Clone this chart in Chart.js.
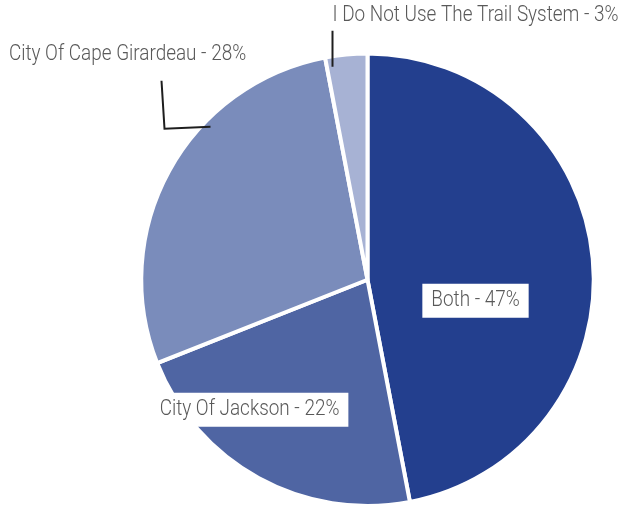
<!DOCTYPE html>
<html>
<head>
<meta charset="utf-8">
<script src="https://cdn.jsdelivr.net/npm/chart.js@4.4.1/dist/chart.umd.min.js"></script>
<style>
  html, body { margin: 0; padding: 0; background: #fff; }
  #wrap { width: 620px; height: 508px; }
</style>
</head>
<body>
<div id="wrap"><canvas id="pie" width="620" height="508"></canvas></div>
<script>
// --- data ---
const categories = ['Both', 'City Of Jackson', 'City Of Cape Girardeau', 'I Do Not Use The Trail System'];
const shares = [47, 22, 28, 3];
const sliceColors = ['#233f8e', '#4f65a3', '#7a8cbb', '#a7b2d4'];

// label placement, offsets from the pie centre (px)
const labelLayout = [
  { box: true, dx: 108, dy: 21 },
  { box: true, dx: -118, dy: 130 },
  { box: false, dx: -240, dy: -225, leader: [[-157, -153], [-203, -151], [-206, -199]] },
  { box: false, dx: 108, dy: -264, leader: [[-35, -213], [-35, -249]] }
];

const FONT = '300 22px Roboto, sans-serif';
const SQUEEZE = 0.86; // narrow the face to look like the condensed original

const sliceLabels = {
  id: 'sliceLabels',
  afterDraw(chart) {
    const ctx = chart.ctx;
    const arc = chart.getDatasetMeta(0).data[0];
    const cx = arc.x, cy = arc.y;
    ctx.save();
    ctx.font = FONT;
    ctx.textBaseline = 'middle';
    ctx.textAlign = 'center';
    categories.forEach((name, i) => {
      const cfg = labelLayout[i];
      const text = name + ' - ' + shares[i] + '%';
      const w = ctx.measureText(text).width * SQUEEZE;
      const x = cx + cfg.dx, y = cy + cfg.dy;
      if (cfg.leader) {
        ctx.strokeStyle = '#1e1e1e';
        ctx.lineWidth = 2;
        ctx.beginPath();
        cfg.leader.forEach((p, k) => {
          if (k === 0) ctx.moveTo(cx + p[0], cy + p[1]);
          else ctx.lineTo(cx + p[0], cy + p[1]);
        });
        ctx.stroke();
      }
      if (cfg.box) {
        ctx.fillStyle = '#ffffff';
        ctx.fillRect(x - w / 2 - 9, y - 17, w + 18, 34);
      }
      ctx.save();
      ctx.translate(x, y);
      ctx.scale(SQUEEZE, 1);
      ctx.fillStyle = '#595959';
      ctx.fillText(text, 0, 0);
      ctx.restore();
    });
    ctx.restore();
  }
};

new Chart(document.getElementById('pie'), {
  type: 'pie',
  data: {
    labels: categories,
    datasets: [{
      data: shares,
      backgroundColor: sliceColors,
      borderColor: '#ffffff',
      borderWidth: 4,
      hoverOffset: 0
    }]
  },
  options: {
    responsive: false,
    animation: false,
    layout: { padding: { top: 51.5, bottom: -3.5, left: 137.5, right: 22.5 } },
    plugins: {
      legend: { display: false },
      tooltip: { enabled: false }
    }
  },
  plugins: [sliceLabels]
});
</script>
</body>
</html>
